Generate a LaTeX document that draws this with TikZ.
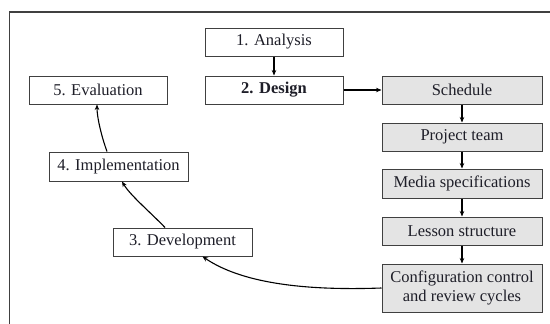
\documentclass[tikz,border=0pt]{standalone}
\usepackage{fontspec}
\setmainfont{Liberation Serif}
\usetikzlibrary{arrows.meta}
\definecolor{boxline}{HTML}{404040}
\definecolor{boxfill}{HTML}{E4E4E4}
\definecolor{txt}{HTML}{1E1E28}
\tikzset{
  box/.style={draw=boxline, line width=1pt, rectangle, inner sep=0pt,
    minimum height=28pt, text=txt, font=\fontsize{16.5}{19}\selectfont, align=center},
  wbox/.style={box, fill=white, minimum width=138pt},
  gbox/.style={box, fill=boxfill, minimum width=160pt},
  arr/.style={line width=1.1pt, -{Stealth[length=5.5pt,width=4.5pt]}},
}
\begin{document}
\begin{tikzpicture}[x=1pt,y=-1pt]
\useasboundingbox (0,0) rectangle (550,324);
\fill[white] (0,0) rectangle (550,324);
\draw[boxline, line width=1.1pt] (9.5,324) -- (9.5,12) -- (550,12);

\node[wbox] (ana) at (274,42) {1. Analysis};
\node[wbox, font=\fontsize{16.5}{19}\selectfont\bfseries] (des) at (274,90) {2. Design};
\node[wbox] (eva) at (98,90) {5. Evaluation};
\node[wbox, minimum width=139pt, minimum height=29pt] (impl) at (118.5,166.5) {4. Implementation};
\node[wbox, minimum width=139pt] (dev) at (182.5,242) {3. Development};

\node[gbox] (sch) at (462,90) {Schedule};
\node[gbox] (team) at (462,137) {Project team};
\node[gbox, minimum height=29pt] (media) at (462,183.5) {Media specifications};
\node[gbox] (lesson) at (462,231) {Lesson structure};
\node[gbox, minimum height=48pt] (config) at (462,288) {Configuration control\\and review cycles};

\draw[arr] (ana) -- (des);
\draw[arr] (des) -- (sch);
\draw[arr] (sch) -- (team);
\draw[arr] (team) -- (media);
\draw[arr] (media) -- (lesson);
\draw[arr] (lesson) -- (config);

\draw[arr] (config.west) .. controls (300,291) and (240,282) .. ([xshift=20pt]dev.south);
\draw[arr] ([xshift=-17.5pt]dev.north) .. controls (150,212) and (130,195) .. ([xshift=3.5pt]impl.south);
\draw[arr] ([xshift=-11.5pt]impl.north) .. controls (102,138) and (97,118) .. ([xshift=-1pt]eva.south);
\end{tikzpicture}
\end{document}
